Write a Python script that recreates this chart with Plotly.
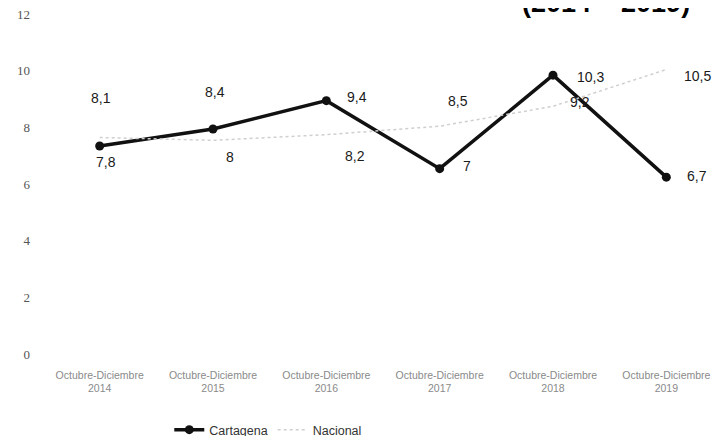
import plotly.graph_objects as go

categories = ["Octubre-Diciembre<br>2014", "Octubre-Diciembre<br>2015", "Octubre-Diciembre<br>2016",
              "Octubre-Diciembre<br>2017", "Octubre-Diciembre<br>2018", "Octubre-Diciembre<br>2019"]
cartagena = [7.8, 8.4, 9.4, 7.0, 10.3, 6.7]
nacional = [8.1, 8.0, 8.2, 8.5, 9.2, 10.5]
y_ticks = [0, 2, 4, 6, 8, 10, 12]

# label placement styles (pixel offsets relative to each point)
cart_shift = [(6, -16), (2, 37), (31, 4), (27, 3), (37, -2), (31, 1)]
nac_shift = [(1, 40), (17, -17), (29, -21), (18, 25), (27, 4), (31, -6)]

def fmt(v):
    return f"{v:g}".replace(".", ",")

fig = go.Figure()
fig.add_trace(go.Scatter(
    x=categories, y=cartagena, name="Cartagena", mode="lines+markers",
    line=dict(color="#111111", width=3.5),
    marker=dict(symbol="circle", size=9, color="#111111"),
))
fig.add_trace(go.Scatter(
    x=categories, y=nacional, name="Nacional", mode="lines",
    line=dict(color="#cfcfcf", width=1.5, dash="dot"),
))

annotations = []
for cat, v, (dx, dy) in zip(categories, cartagena, cart_shift):
    annotations.append(dict(x=cat, y=v, text=fmt(v), showarrow=False, xshift=dx, yshift=dy,
                            font=dict(family="Liberation Sans", size=14, color="#1a1a1a")))
for cat, v, (dx, dy) in zip(categories, nacional, nac_shift):
    annotations.append(dict(x=cat, y=v, text=fmt(v), showarrow=False, xshift=dx, yshift=dy,
                            font=dict(family="Liberation Sans", size=14, color="#1a1a1a")))
annotations.append(dict(xref="paper", yref="paper", x=0.954, y=1.0206, xanchor="right", yanchor="bottom",
                        text="<b>(2014 – 2019)</b>", showarrow=False,
                        font=dict(family="Liberation Sans", size=27, color="#000000")))

fig.update_layout(
    width=723, height=436,
    margin=dict(l=35, r=8, t=19, b=77, autoexpand=False),
    paper_bgcolor="white", plot_bgcolor="white",
    showlegend=True,
    legend=dict(orientation="h", xref="container", yref="container", x=0.36, y=0.032,
                xanchor="center", yanchor="middle",
                font=dict(family="Liberation Sans", size=12.5, color="#333333"),
                bgcolor="rgba(0,0,0,0)"),
    annotations=annotations,
)
fig.update_xaxes(showgrid=False, showline=False, zeroline=False, ticks="", automargin=False,
                 range=[-0.5, 5.5],
                 tickfont=dict(family="Liberation Sans", size=10.5, color="#8a8a8a"))
fig.update_yaxes(showgrid=False, showline=False, zeroline=False, ticks="", automargin=False,
                 range=[0, 12], tickvals=y_ticks, ticktext=[str(t) for t in y_ticks],
                 ticklabelstandoff=12, ticklabelshift=-13, ticklabeloverflow="allow",
                 tickfont=dict(family="Liberation Serif", size=13, color="#555555"))

fig.write_html("out.html")
